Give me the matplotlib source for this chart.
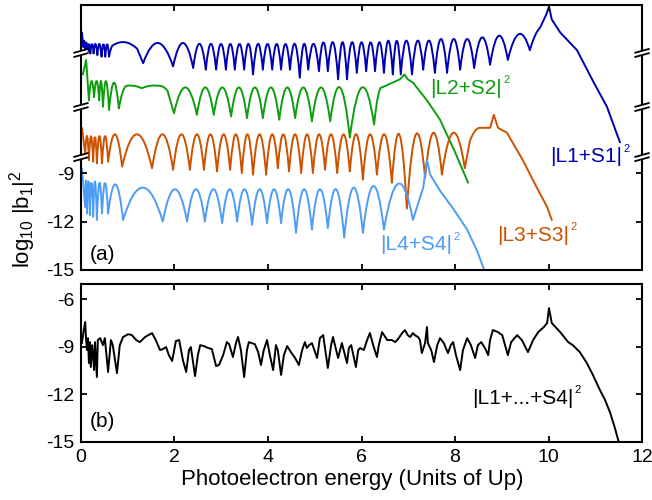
import numpy as np
import matplotlib
matplotlib.use("Agg")
import matplotlib.pyplot as plt
from matplotlib.path import Path
from matplotlib.patches import PathPatch, Polygon
from matplotlib.lines import Line2D

plt.rcParams["font.family"] = ["Liberation Sans", "DejaVu Sans"]
plt.rcParams["mathtext.fontset"] = "custom"
plt.rcParams["mathtext.rm"] = "Liberation Sans"
plt.rcParams["mathtext.it"] = "Liberation Sans:italic"
plt.rcParams["axes.unicode_minus"] = False

nan = np.nan

# ---------------------------------------------------------------
# panel (a): knots (dips / turning points), and arc apex between
# consecutive knots (nan = straight segment); log10 values
# ---------------------------------------------------------------
L1_x = [0.02, 0.05, 0.09, 0.14, 0.20, 0.27, 0.35, 0.44, 0.52, 0.60,
        0.68, 1.20, 1.33, 1.97, 2.40, 2.67, 2.89, 3.10, 3.29, 3.49,
        3.68, 3.89, 4.09, 4.28, 4.47, 4.68, 4.86, 5.09, 5.28, 5.50,
        5.69, 5.90, 6.10, 6.29, 6.48, 6.67, 6.84, 7.08, 7.32, 7.57,
        7.83, 8.11, 8.41, 8.75, 9.13, 9.60, 9.82, 9.95, 10.01, 10.07,
        10.25, 10.61, 10.95, 11.25, 11.49, 11.53]
L1_y = [-9.3, -10.2, -10.4, -10.5, -10.6, -10.6, -10.7, -10.8, -10.8, -10.8,
        -10.1, -10.3, -11.2, -11.4, -11.5, -11.6, -11.6, -11.6, -11.6, -11.6,
        -11.9, -11.6, -11.6, -11.6, -11.6, -12.1, -11.6, -11.7, -11.7, -12.2,
        -12.2, -11.8, -11.7, -11.7, -11.8, -11.9, -11.9, -11.9, -11.6, -11.8,
        -11.8, -11.6, -11.5, -11.3, -11.0, -10.4, -9.0, -8.2, -7.7, -8.5,
        -9.3, -10.4, -12.3, -13.9, -15.8, -16.1]
L1_top = [nan, -9.8, -9.9, -10.0, -10.0, -10.0, -10.0, -10.0, -10.0, -10.3,
          -9.9, nan, -9.95, -9.95, -10.0, -10.0, -10.0, -10.0, -10.0, -10.0,
          -10.0, -10.0, -10.0, -10.0, -10.0, -10.0, -10.0, -9.9, -9.9, -9.9,
          -9.9, -9.9, -9.9, -9.9, -9.8, -9.8, -9.8, -9.8, -9.8, -9.7,
          -9.7, -9.7, -9.6, -9.5, -9.4, -9.5, nan, nan, nan, nan,
          nan, nan, nan, nan, nan]

L2_x = [0.04, 0.11, 0.17, 0.28, 0.39, 0.47, 0.60, 0.81, 0.97, 1.30,
        1.65, 1.85, 1.99, 2.48, 2.84, 3.21, 3.55, 3.89, 4.24, 4.58,
        4.94, 5.33, 5.75, 6.27, 6.44, 6.82, 6.92, 6.99, 7.10, 7.40,
        7.68, 8.00, 8.28]
L2_y = [-8.9, -8.0, -10.5, -10.3, -10.5, -10.9, -11.1, -11.0, -9.6, -9.75,
        -9.6, -9.9, -11.3, -11.4, -11.4, -11.5, -11.6, -11.6, -11.7, -11.6,
        -11.8, -11.8, -12.8, -12.0, -9.7, -9.2, -8.9, -9.2, -9.4, -10.5,
        -11.7, -13.7, -15.6]
L2_top = [nan, nan, -9.3, -9.3, -9.3, -9.3, -9.4, -10.0, -9.6, -9.6,
          -9.65, nan, -9.7, -9.7, -9.7, -9.7, -9.7, -9.7, -9.7, -9.7,
          -9.7, -9.7, -9.7, -10.2, nan, nan, nan, nan, nan, nan,
          nan, nan]

L3_x = [0.02, 0.09, 0.17, 0.26, 0.34, 0.45, 0.58, 0.88, 1.52, 1.97,
        2.33, 2.63, 2.91, 3.19, 3.44, 3.68, 3.96, 4.21, 4.45, 4.71,
        4.96, 5.22, 5.48, 5.75, 6.03, 6.33, 6.65, 6.97, 7.36, 7.72,
        8.21, 8.32, 8.53, 8.75, 8.83, 8.92, 9.11, 9.45, 9.75, 9.97,
        10.07]
L3_y = [-9.2, -10.8, -11.2, -11.3, -11.4, -11.4, -11.3, -11.6, -11.7, -11.8,
        -11.8, -11.8, -11.9, -11.8, -12.0, -12.1, -12.1, -11.7, -11.9, -12.0,
        -12.0, -11.8, -12.0, -11.9, -12.4, -12.1, -12.6, -14.2, -12.3, -12.1,
        -11.7, -10.0, -9.2, -9.2, -8.4, -9.2, -9.5, -11.2, -12.9, -14.1,
        -14.9]
L3_top = [nan, -9.7, -9.7, -9.7, -9.7, -9.7, -9.6, -9.6, -9.6, -9.6,
          -9.6, -9.6, -9.6, -9.6, -9.6, -9.6, -9.6, -9.6, -9.6, -9.6,
          -9.6, -9.6, -9.6, -9.6, -9.6, -9.6, -9.6, -9.6, -9.5, -9.5,
          nan, -9.4, nan, nan, nan, nan, nan, nan, nan, nan]

L4_x = [0.02, 0.09, 0.13, 0.19, 0.26, 0.34, 0.45, 0.58, 0.90, 1.75,
        2.27, 2.65, 3.02, 3.34, 3.66, 3.98, 4.28, 4.60, 4.94, 5.28,
        5.63, 6.03, 6.48, 7.10, 7.21, 7.32, 7.40, 7.47, 7.68, 7.96,
        8.26, 8.47, 8.60, 8.70]
L4_y = [-8.7, -11.1, -11.5, -11.6, -11.7, -11.9, -11.5, -11.5, -11.9, -12.0,
        -12.0, -12.0, -12.1, -12.0, -12.2, -12.1, -12.1, -12.7, -12.5, -12.4,
        -13.0, -12.7, -12.5, -11.9, -10.9, -9.9, -8.2, -9.1, -10.1, -11.2,
        -12.5, -13.8, -14.8, -15.5]
L4_top = [nan, -9.4, -9.4, -9.5, -9.5, -9.6, -9.6, -9.7, -9.9, -10.0,
          -10.0, -10.0, -10.0, -10.0, -10.0, -10.0, -10.0, -10.0, -10.0, -10.0,
          -9.9, -9.8, -9.65, nan, nan, nan, nan, nan, nan, nan,
          nan, nan, nan]

# vertical offsets used to stack the curves (broken axis)
offsets = [9, 6, 3, 0]
labels_a = ["|L1+S1|", "|L2+S2|", "|L3+S3|", "|L4+S4|"]
colors = ["#0000b3", "#0f9d0f", "#cc5200", "#4d9cf5"]

# ---------------------------------------------------------------
# panel (b): coherent sum
# ---------------------------------------------------------------
B_x = [0.02, 0.06, 0.09, 0.11, 0.13, 0.15, 0.17, 0.19, 0.21, 0.24,
       0.26, 0.28, 0.30, 0.32, 0.34, 0.36, 0.41, 0.47, 0.51, 0.58,
       0.64, 0.68, 0.77, 0.83, 0.90, 1.01, 1.09, 1.18, 1.26, 1.37,
       1.52, 1.60, 1.69, 1.75, 1.82, 1.88, 1.95, 2.03, 2.10, 2.18,
       2.25, 2.31, 2.35, 2.44, 2.50, 2.55, 2.63, 2.72, 2.80, 2.89,
       2.95, 2.97, 3.04, 3.12, 3.17, 3.25, 3.32, 3.36, 3.42, 3.49,
       3.55, 3.59, 3.72, 3.79, 3.85, 3.91, 3.98, 4.04, 4.11, 4.17,
       4.21, 4.28, 4.34, 4.41, 4.49, 4.58, 4.66, 4.73, 4.79, 4.83,
       4.88, 4.94, 5.05, 5.11, 5.18, 5.28, 5.35, 5.39, 5.50, 5.58,
       5.69, 5.73, 5.78, 5.88, 5.93, 5.97, 6.05, 6.12, 6.18, 6.25,
       6.33, 6.37, 6.44, 6.55, 6.65, 6.72, 6.78, 6.87, 6.93, 6.99,
       7.04, 7.10, 7.14, 7.21, 7.25, 7.29, 7.36, 7.40, 7.42, 7.49,
       7.55, 7.62, 7.68, 7.76, 7.85, 7.91, 7.96, 8.02, 8.11, 8.17,
       8.26, 8.34, 8.43, 8.49, 8.56, 8.64, 8.71, 8.75, 8.81, 8.92,
       9.01, 9.07, 9.13, 9.20, 9.33, 9.43, 9.56, 9.67, 9.78, 9.90,
       9.97, 10.01, 10.07, 10.25, 10.42, 10.52, 10.67, 10.82, 10.95, 11.10,
       11.21, 11.32, 11.42, 11.49, 11.53]
B_y = [-8.77, -7.95, -7.45, -8.58, -9.21, -8.46, -10.03, -8.71, -10.28, -8.90,
       -9.53, -10.47, -8.71, -9.84, -10.91, -8.58, -8.46, -8.90, -8.46, -10.59,
       -8.58, -8.90, -10.66, -8.90, -8.39, -8.21, -8.27, -8.58, -8.71, -8.39,
       -8.14, -8.58, -9.21, -9.15, -9.02, -9.53, -9.90, -8.64, -8.58, -9.84,
       -10.59, -9.21, -9.02, -10.85, -9.53, -8.90, -8.96, -9.08, -9.15, -10.22,
       -10.15, -10.03, -9.53, -8.71, -8.84, -9.65, -8.71, -8.39, -9.21, -10.91,
       -9.21, -8.71, -8.84, -9.34, -10.15, -9.21, -8.58, -9.53, -10.47, -8.90,
       -9.21, -10.78, -9.53, -8.96, -9.34, -9.71, -10.15, -9.21, -8.71, -9.08,
       -8.90, -8.77, -9.71, -8.46, -8.27, -10.34, -8.90, -8.39, -9.71, -8.77,
       -10.03, -9.08, -8.90, -10.28, -9.21, -9.08, -9.21, -8.58, -8.14, -8.90,
       -9.65, -8.90, -8.08, -8.58, -8.58, -8.71, -8.52, -8.14, -7.95, -8.27,
       -8.39, -8.14, -8.27, -8.39, -8.58, -9.40, -8.77, -7.76, -8.77, -9.21,
       -9.96, -8.90, -8.46, -8.77, -9.40, -8.90, -8.71, -9.53, -10.47, -9.21,
       -8.46, -8.90, -9.71, -8.90, -8.71, -9.08, -9.53, -8.58, -7.95, -8.08,
       -8.27, -8.90, -9.53, -8.71, -8.27, -8.58, -9.34, -8.58, -8.08, -7.76,
       -7.51, -6.57, -7.51, -8.08, -8.71, -8.90, -9.34, -10.03, -10.78, -11.73,
       -12.36, -13.17, -14.12, -14.87, -15.3]


def arc_curve(ax, xs, ys, tops, off, color):
    verts = [(xs[0], ys[0] + off)]
    codes = [Path.MOVETO]
    for i in range(len(xs) - 1):
        y0 = ys[i] + off
        y1 = ys[i + 1] + off
        if np.isnan(tops[i]):
            verts.append((xs[i + 1], y1))
            codes.append(Path.LINETO)
        else:
            cy = 2 * (tops[i] + off) - (y0 + y1) / 2
            verts += [((xs[i] + xs[i + 1]) / 2, cy), (xs[i + 1], y1)]
            codes += [Path.CURVE3, Path.CURVE3]
    ax.add_patch(PathPatch(Path(verts, codes), fill=False, edgecolor=color,
                           lw=1.4, joinstyle="round", capstyle="round"))


def squared_label(ax, x, y, s, color="black"):
    t = ax.text(x, y, s, color=color, fontsize=15, va="center")
    ax.annotate("2", xy=(1, 1), xycoords=t, xytext=(1, 2.5),
                textcoords="offset points", fontsize=8, color=color,
                ha="left", va="top")


def axis_break(ax, yf):
    dx, dy, g = 0.012, 0.007, 0.008
    for x0 in (0, 1):
        ax.add_patch(Polygon([(x0 - dx, yf - dy - g), (x0 + dx, yf + dy - g),
                              (x0 + dx, yf + dy + g), (x0 - dx, yf - dy + g)],
                             closed=True, facecolor="white", edgecolor="none",
                             transform=ax.transAxes, clip_on=False, zorder=5))
        for s in (-g, g):
            ax.add_line(Line2D([x0 - dx, x0 + dx], [yf - dy + s, yf + dy + s],
                               color="black", lw=1.3, transform=ax.transAxes,
                               clip_on=False, zorder=6))


fig = plt.figure(figsize=(6.52, 5.0), dpi=100)
ax1 = fig.add_axes([0.1242, 0.46, 0.8605, 0.53])
ax2 = fig.add_axes([0.1242, 0.116, 0.8605, 0.316])

curves = [(L1_x, L1_y, L1_top), (L2_x, L2_y, L2_top),
          (L3_x, L3_y, L3_top), (L4_x, L4_y, L4_top)]
for (xs, ys, tops), off, c in zip(curves, offsets, colors):
    arc_curve(ax1, xs, ys, tops, off, c)

squared_label(ax1, 10.03, -8.0, labels_a[0], colors[0])
squared_label(ax1, 7.47, -3.74, labels_a[1], colors[1])
squared_label(ax1, 8.90, -12.84, labels_a[2], colors[2])
squared_label(ax1, 6.40, -13.45, labels_a[3], colors[3])
ax1.text(0.19, -14.05, "(a)", fontsize=15, va="center")

ax2.plot(B_x, B_y, color="black", lw=1.4)
squared_label(ax2, 8.36, -12.23, "|L1+...+S4|")
ax2.text(0.19, -13.68, "(b)", fontsize=15, va="center")

for ax in (ax1, ax2):
    ax.set_xlim(0, 12)
    ax.set_xticks(range(0, 13, 2))
    ax.tick_params(direction="in", top=True, right=True, length=4.5,
                   width=1.3, labelsize=14, pad=5)
    for sp in ax.spines.values():
        sp.set_linewidth(1.5)

ax1.set_ylim(-15, 1.4)
ax1.set_yticks([-9, -12, -15])
ax1.tick_params(labelbottom=False)
for yf in (0.819, 0.615, 0.426):
    axis_break(ax1, yf)

ax2.set_ylim(-15, -5.05)
ax2.set_yticks([-6, -9, -12, -15])
ax2.set_xlabel("Photoelectron energy (Units of Up)", fontsize=16)
ax2.xaxis.set_label_coords(0.483, -0.17)

fig.text(0.034, 0.562, "log$_{10}$ |b$_1$|$^2$", rotation=90,
         ha="center", va="center", fontsize=16)

fig.savefig("out.png", dpi=100)
